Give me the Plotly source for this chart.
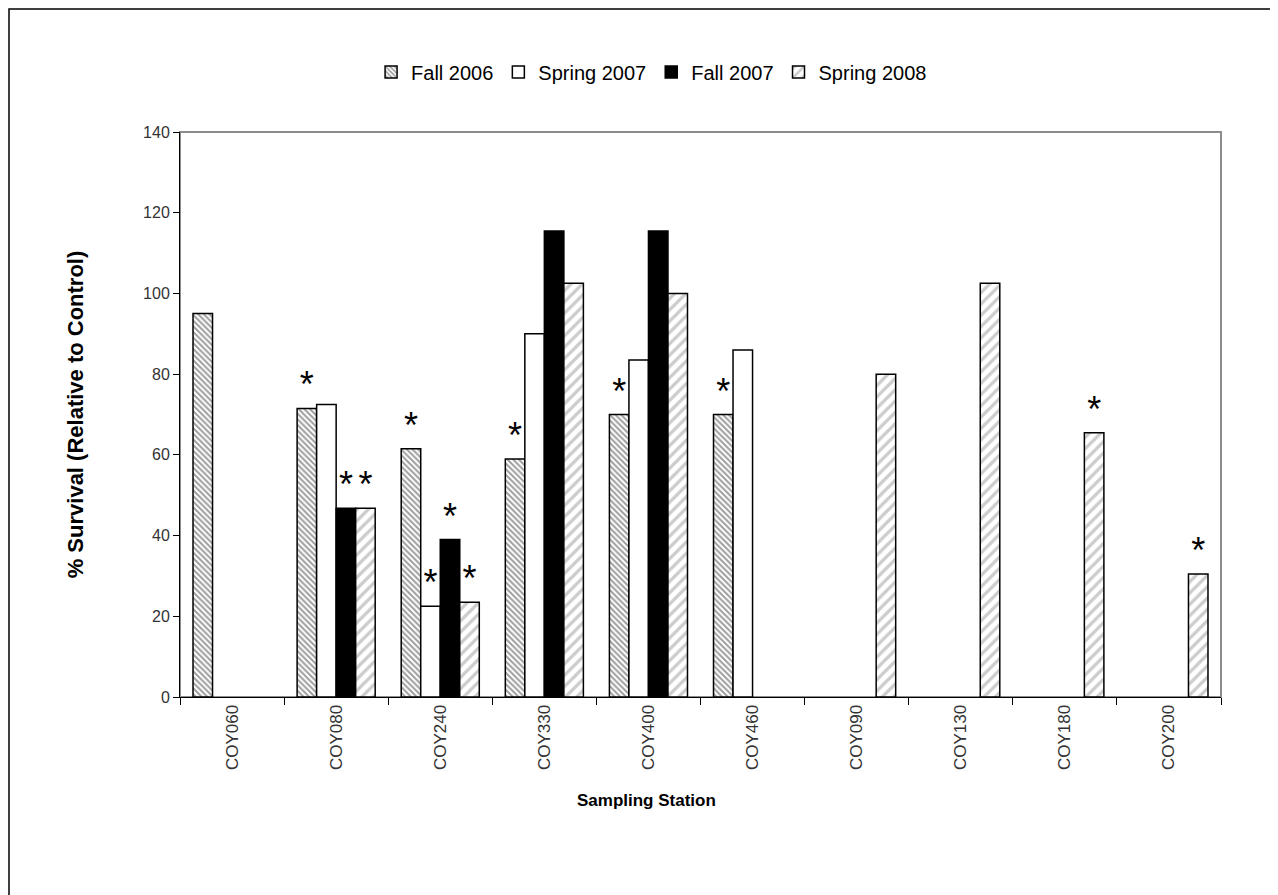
import plotly.graph_objects as go

stations = ["COY060", "COY080", "COY240", "COY330", "COY400", "COY460",
            "COY090", "COY130", "COY180", "COY200"]
fall_2006 = [95, 71.5, 61.5, 59, 70, 70, None, None, None, None]
spring_2007 = [None, 72.5, 22.5, 90, 83.5, 86, None, None, None, None]
fall_2007 = [None, 46.8, 39, 115.5, 115.5, None, None, None, None, None]
spring_2008 = [None, 46.8, 23.5, 102.5, 100, None, 80, 102.5, 65.5, 30.5]

sig_fall_2006 = ["", "*", "*", "*", "*", "*", "", "", "", ""]
sig_spring_2007 = ["", "", "*", "", "", "", "", "", "", ""]
sig_fall_2007 = ["", "*", "*", "", "", "", "", "", "", ""]
sig_spring_2008 = ["", "*", "*", "", "", "", "", "", "*", "*"]

y_ticks = [0, 20, 40, 60, 80, 100, 120, 140]

common = dict(textposition="outside", constraintext="none", cliponaxis=False,
              textfont=dict(size=36, color="black", family="Liberation Sans, Arial"))

fig = go.Figure()
fig.add_trace(go.Bar(
    name="Fall 2006", x=stations, y=fall_2006, text=sig_fall_2006,
    marker=dict(color="white", line=dict(color="black", width=1.5),
                pattern=dict(shape="\\", fgcolor="#3c3c3c", bgcolor="white",
                             size=4, solidity=0.5)),
    **common))
fig.add_trace(go.Bar(
    name="Spring 2007", x=stations, y=spring_2007, text=sig_spring_2007,
    marker=dict(color="white", line=dict(color="black", width=1.5)),
    **common))
fig.add_trace(go.Bar(
    name="Fall 2007", x=stations, y=fall_2007, text=sig_fall_2007,
    marker=dict(color="black", line=dict(color="black", width=1.5)),
    **common))
fig.add_trace(go.Bar(
    name="Spring 2008", x=stations, y=spring_2008, text=sig_spring_2008,
    marker=dict(color="white", line=dict(color="black", width=1.5),
                pattern=dict(shape="/", fgcolor="#999999", bgcolor="white",
                             size=8, solidity=0.4)),
    **common))

W, H = 1270, 887
L, R, T, B = 172, 57, 124, 198
PW, PH = W - L - R, H - T - B

fig.update_layout(
    width=W, height=H,
    margin=dict(l=L, r=R, t=T, b=B),
    paper_bgcolor="white", plot_bgcolor="white",
    barmode="group", bargap=0.25, bargroupgap=0,
    font=dict(family="Liberation Sans, Arial", color="black"),
    showlegend=True,
    legend=dict(orientation="h", x=0.453, xanchor="center", y=1.106, yanchor="middle",
                font=dict(size=20), traceorder="normal"),
    xaxis=dict(
        type="category", showline=True, linecolor="black", linewidth=1,
        ticks="outside", ticklen=7, tickcolor="black", tickson="boundaries",
        tickangle=-90, tickfont=dict(size=17, color="#333333"),
        showgrid=False,
    ),
    yaxis=dict(
        range=[0, 140], tickvals=y_ticks, showline=True, linecolor="black", linewidth=1,
        ticks="outside", ticklen=6, tickcolor="black",
        tickfont=dict(size=16, color="#333333"),
        title=dict(text="<b>% Survival (Relative to Control)</b>", font=dict(size=22), standoff=53),
        showgrid=False, zeroline=False,
    ),
    annotations=[
        dict(text="<b>Sampling Station</b>", xref="paper", yref="paper",
             x=(646 - 8 - L) / PW, y=-(800 - 8 - T - PH) / PH,
             xanchor="center", yanchor="middle", showarrow=False,
             font=dict(size=17, color="black")),
    ],
    shapes=[
        dict(type="rect", xref="paper", yref="paper", x0=0, x1=1, y0=0, y1=1,
             line=dict(color="#8c8c8c", width=2), layer="below"),
        dict(type="rect", xref="paper", yref="paper",
             x0=(1 - L) / PW, x1=(W + 20 - L) / PW,
             y0=-(B + 20) / PH, y1=1 + (T - 1) / PH,
             line=dict(color="black", width=1.5), layer="below"),
    ],
)

fig.write_html("out.html")
